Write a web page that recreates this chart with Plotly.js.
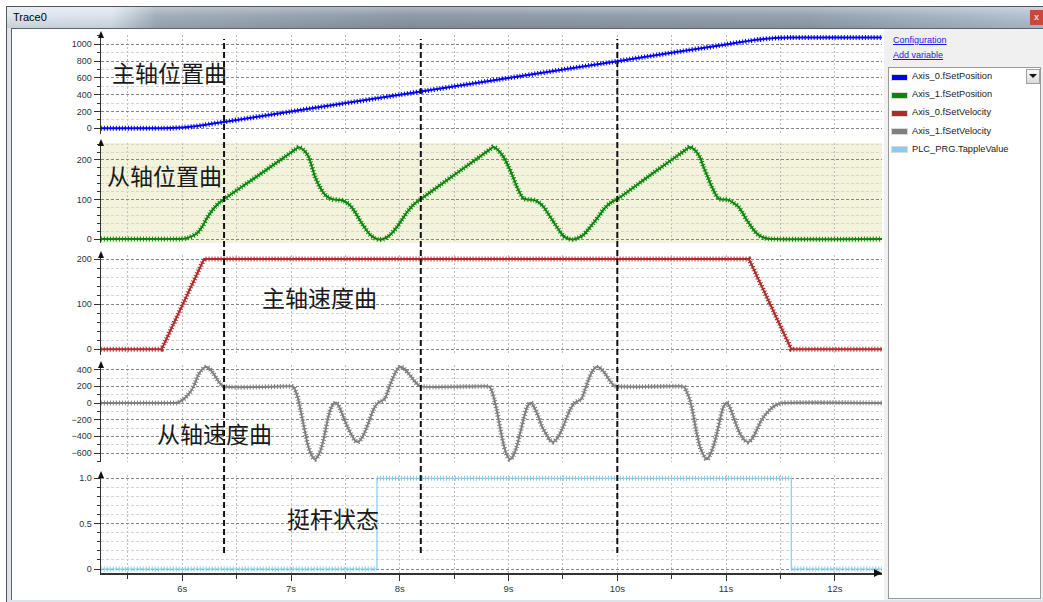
<!DOCTYPE html>
<html>
<head>
<meta charset="utf-8">
<script src="https://cdn.plot.ly/plotly-3.0.1.min.js"></script>
<style>
  html, body { margin: 0; padding: 0; background: #ffffff; width: 1043px; height: 602px; overflow: hidden; }
  .abs { position: absolute; }
  #frame { left: 6px; top: 6px; width: 1036px; height: 595px; background: #dde3e9; border-left: 1px solid #555; border-top: 1px solid #555; }
  #titlebar { left: 7px; top: 7px; width: 1036px; height: 21px;
    background: linear-gradient(to bottom, rgba(255,255,255,0.30), rgba(255,255,255,0.0) 40%, rgba(0,0,0,0.10)),
                linear-gradient(to right, #dfe7ef 0px, #dbe4ed 105px, #a3afbb 150px, #8e9aa7 400px, #95a2af 800px, #b5c4d3 1036px); }
  #ttext { left: 13px; top: 11px; font: 11px "Liberation Sans", Arial, sans-serif; color: #000; }
  #close { left: 1030px; top: 10px; width: 13px; height: 15px; background: #c8483c; color: #f4d0cc; font: bold 9px "Liberation Sans", Arial, sans-serif; text-align: center; line-height: 15px; }
  #content { left: 11px; top: 28px; width: 1032px; height: 571px; background: #ffffff; border-left: 1px solid #5b6470; border-top: 1px solid #5b6470; }
  #plot { left: 12px; top: 29px; width: 873px; height: 569px; }
  #side { left: 884px; top: 29px; width: 159px; height: 571px; background: #f0f0f0; }
  .lnk { position: absolute; left: 893px; font: 9px "Liberation Sans", Arial, sans-serif; color: #1a1ae6; text-decoration: underline; white-space: nowrap; }
  #lbox { left: 888px; top: 67px; width: 151px; height: 530px; background: #fff; border: 1px solid #9a9a9a; }
  .sw { position: absolute; left: 892px; width: 15px; height: 5px; box-shadow: 0 0 0 1px rgba(0,0,0,0.15); }
  .lt { position: absolute; left: 912px; font: 9.3px "Liberation Sans", Arial, sans-serif; color: #222; white-space: nowrap; }
  #dd { left: 1026px; top: 69px; width: 12px; height: 13px; border: 1px solid #a0a0a0; background: linear-gradient(#f8f8f8, #dadada); }
  #ddtri { left: 1029px; top: 74px; width: 0; height: 0; border-left: 4px solid transparent; border-right: 4px solid transparent; border-top: 4px solid #111; }
</style>
</head>
<body>
<div id="frame" class="abs"></div>
<div id="titlebar" class="abs"></div>
<div id="ttext" class="abs">Trace0</div>
<div id="close" class="abs">x</div>
<div id="content" class="abs"></div>
<div id="plot" class="abs"></div>
<div id="side" class="abs"></div>
<div class="lnk" style="top:35px">Configuration</div>
<div class="lnk" style="top:50px">Add variable</div>
<div id="lbox" class="abs"></div>
<div id="dd" class="abs"></div>
<div id="ddtri" class="abs"></div>
<div id="legend"></div>
<script>
// ---------------- DATA ----------------
const seriesNames = ["Axis_0.fSetPosition", "Axis_1.fSetPosition", "Axis_0.fSetVelocity", "Axis_1.fSetVelocity", "PLC_PRG.TappleValue"];
const seriesColors = ["#0000ff", "#0a860a", "#b02c2c", "#808080", "#87ceeb"];
const panelLabels = ["主轴位置曲", "从轴位置曲", "主轴速度曲", "从轴速度曲", "挺杆状态"];
const cycleMarks = [6.384, 8.193, 10.0];   // dashed cycle markers (s)

// Axis_0 position
const axis0PosT = [5.25, 5.81, 5.90, 6.00, 6.10, 6.20, 6.384, 7.00, 8.00, 8.193, 9.00, 10.00, 11.00, 11.21, 11.30, 11.40, 11.50, 11.60, 12.45];
const axis0PosV = [0, 0, 2, 9, 21, 39, 76, 199, 399, 438, 599, 799, 999, 1041, 1057, 1070, 1078, 1081, 1081];

// Axis_1 position
const axis1PosT = [5.25, 5.90, 5.98, 6.05, 6.133, 6.18, 6.225, 6.26, 6.30, 6.34, 6.384,
  6.70, 7.00, 7.04, 7.07, 7.113, 7.16, 7.22, 7.26, 7.30, 7.328, 7.375, 7.435, 7.48, 7.527, 7.575, 7.65, 7.73, 7.772, 7.805, 7.849, 7.90, 7.975, 8.07, 8.13, 8.193,
  8.50, 8.80, 8.835, 8.86, 8.90, 8.95, 8.998, 9.04, 9.075, 9.136, 9.18, 9.228, 9.28, 9.32, 9.36, 9.412, 9.46, 9.503, 9.55, 9.595, 9.64, 9.687, 9.73, 9.779, 9.83, 9.871, 9.94, 10.0,
  10.30, 10.61, 10.64, 10.668, 10.71, 10.76, 10.791, 10.83, 10.868, 10.929, 10.97, 11.02, 11.07, 11.113, 11.15, 11.19, 11.23, 11.266, 11.30, 11.343, 11.39, 11.435, 12.45];
const axis1PosV = [0, 0, 0, 3, 14, 30, 52, 67, 81, 92, 101,
  161, 219, 227, 232, 226, 209, 158, 134, 116, 108, 101, 99, 97, 89, 74, 40, 10, 2, -1, 0, 8, 31, 69, 88, 101,
  162, 221, 228, 233, 226, 209, 184, 158, 133, 103, 100, 99, 92, 82, 66, 44, 24, 8, 1, -1, 3, 10, 23, 40, 58, 74, 92, 101,
  161, 222, 228, 233, 226, 207, 184, 158, 133, 103, 100, 99, 91, 82, 67, 48, 32, 19, 10, 4, 1, 0, 0];

// Axis_0 velocity
const axis0VelT = [5.25, 5.81, 6.20, 11.21, 11.60, 12.45];
const axis0VelV = [0, 0, 200, 200, 0, 0];

// Axis_1 velocity
const axis1VelT = [5.25, 5.90, 5.95, 6.01, 6.05, 6.086, 6.12, 6.147, 6.18, 6.215, 6.25, 6.285, 6.315, 6.347, 6.384,
  7.00, 7.021, 7.045, 7.067, 7.09, 7.113, 7.135, 7.159, 7.19, 7.22, 7.25, 7.282, 7.31, 7.343, 7.375, 7.413, 7.445, 7.48, 7.52, 7.557, 7.585, 7.612, 7.645, 7.68, 7.72, 7.756, 7.79, 7.818, 7.84, 7.864, 7.89, 7.91, 7.935, 7.956, 7.98, 8.002, 8.04, 8.079, 8.11, 8.14, 8.165, 8.193,
  8.80, 8.825, 8.85, 8.87, 8.891, 8.92, 8.952, 8.98, 9.013, 9.045, 9.075, 9.105, 9.136, 9.17, 9.204, 9.235, 9.274, 9.31, 9.351, 9.38, 9.412, 9.45, 9.489, 9.53, 9.565, 9.60, 9.627, 9.65, 9.673, 9.70, 9.734, 9.77, 9.811, 9.85, 9.887, 9.925, 9.964, 10.0,
  10.59, 10.613, 10.64, 10.668, 10.70, 10.73, 10.77, 10.822, 10.85, 10.883, 10.915, 10.944, 10.975, 11.006, 11.035, 11.067, 11.105, 11.144, 11.175, 11.205, 11.245, 11.282, 11.32, 11.358, 11.40, 11.435, 11.475, 11.52, 12.45];
const axis1VelV = [0, 0, 2, 44, 95, 156, 250, 336, 400, 436, 410, 356, 295, 236, 200,
  200, 195, 130, 36, -100, -244, -390, -524, -630, -676, -630, -524, -370, -164, -40, 4, -50, -164, -290, -384, -445, -468, -430, -344, -210, -84, -10, 16, 30, 56, 140, 216, 295, 356, 410, 436, 410, 356, 305, 256, 222, 200,
  200, 195, 130, 36, -84, -284, -484, -610, -676, -630, -524, -370, -204, -50, 4, -50, -164, -290, -384, -445, -468, -420, -324, -190, -84, -10, 16, 30, 56, 150, 276, 380, 436, 410, 356, 280, 216, 200,
  200, 195, 130, 36, -150, -364, -560, -676, -630, -524, -370, -204, -50, 4, -50, -164, -300, -404, -450, -468, -420, -324, -220, -144, -85, -44, -15, 0, 0];

// Tappet state (step)
const tappleT = [5.25, 7.79, 11.60, 12.45];
const tappleV = [0, 1, 0, 0];

// Axis tick settings per panel
const yMajorStep = [200, 100, 100, 200, 0.5];
const yMinorStep = [100, 20, 20, 100, 0.1];
const yRanges = [[-68, 1111], [-10, 243], [-13, 209], [-708, 456], [-0.044, 1.036]];
const tappleTickVals = [0, 0.5, 1];
const tappleTickText = ["0", "0.5", "1.0"];

// ---------------- LEGEND (HTML side panel) ----------------
const legend = document.getElementById('legend');
seriesNames.forEach((n, i) => {
  const yc = 77 + i * 18.2;
  const sw = document.createElement('div');
  sw.className = 'sw';
  sw.style.top = (yc - 2.5) + 'px';
  sw.style.background = seriesColors[i];
  legend.appendChild(sw);
  const tx = document.createElement('div');
  tx.className = 'lt';
  tx.style.top = (yc - 6) + 'px';
  tx.textContent = n;
  legend.appendChild(tx);
});

// ---------------- PLOT ----------------
const W = 873, H = 569, ML = 89, MR = 3, MT = 6, MB = 25;
const PW = W - ML - MR, PH = H - MT - MB;
const px = 1 / PW, py = 1 / PH;
const domains = [[0.816, 1.0], [0.6134, 0.7993], [0.4052, 0.5911], [0.2063, 0.3866], [0, 0.1822]];

const series = [
  {t: axis0PosT, v: axis0PosV, shape: 'spline', sm: 0.6},
  {t: axis1PosT, v: axis1PosV, shape: 'spline', sm: 0.8},
  {t: axis0VelT, v: axis0VelV, shape: 'linear', sm: 0},
  {t: axis1VelT, v: axis1VelV, shape: 'spline', sm: 0.8},
  {t: tappleT, v: tappleV, shape: 'hv', sm: 0}
];

function horizRuns(t, v) {
  const xs = [], ys = [];
  for (let i = 0; i < t.length - 1; i++) { xs.push(t[i], t[i + 1], null); ys.push(v[i], v[i], null); }
  return {xs, ys};
}

const traces = [];
series.forEach((s, i) => {
  const xa = i === 0 ? 'x' : 'x' + (i + 1);
  const ya = i === 0 ? 'y' : 'y' + (i + 1);
  const isStep = s.shape === 'hv';
  traces.push({x: s.t, y: s.v, xaxis: xa, yaxis: ya, mode: 'lines', name: seriesNames[i], hoverinfo: 'skip',
    line: {color: seriesColors[i], width: isStep ? 1.2 : 2, shape: s.shape, smoothing: s.sm || undefined}});
  let ox = s.t, oy = s.v, oshape = s.shape;
  if (isStep) { const r = horizRuns(s.t, s.v); ox = r.xs; oy = r.ys; oshape = 'linear'; }
  traces.push({x: ox, y: oy, xaxis: xa, yaxis: ya, mode: 'lines', hoverinfo: 'skip', connectgaps: false,
    line: {color: seriesColors[i], width: 5, dash: '1px,2px', shape: oshape, smoothing: s.sm || undefined}});
});

const layout = {
  width: W, height: H,
  margin: {l: ML, r: MR, t: MT, b: MB, pad: 0},
  paper_bgcolor: '#ffffff', plot_bgcolor: 'rgba(0,0,0,0)',
  showlegend: false,
  font: {family: '"Liberation Sans", Arial, sans-serif', size: 9, color: '#333'},
  shapes: [], annotations: []
};

for (let i = 0; i < 5; i++) {
  const xk = i === 0 ? 'xaxis' : 'xaxis' + (i + 1);
  const yk = i === 0 ? 'yaxis' : 'yaxis' + (i + 1);
  const ya = i === 0 ? 'y' : 'y' + (i + 1);
  const xa = i === 0 ? 'x' : 'x' + (i + 1);
  const bottom = i === 4;
  layout[xk] = {
    anchor: ya, domain: [0, 1], range: [5.2524, 12.434],
    tick0: 0, dtick: 1, ticksuffix: 's',
    showgrid: true, gridcolor: '#bdbdbd', griddash: '2px,2px', gridwidth: 1,
    zeroline: false, showline: bottom, linecolor: '#333', linewidth: 1.5,
    showticklabels: bottom, ticks: bottom ? 'outside' : '', ticklen: 6, tickcolor: '#333', tickwidth: 1,
    tickfont: {size: 9.5, color: '#333'},
    minor: {dtick: 0.5, tick0: 0, showgrid: true, gridcolor: '#bdbdbd', griddash: '2px,2px', gridwidth: 1,
            ticks: bottom ? 'outside' : '', ticklen: 4, tickcolor: '#333'}
  };
  if (i > 0) layout[xk].matches = 'x';
  const yax = {
    anchor: xa, domain: domains[i], range: yRanges[i],
    tick0: 0, dtick: yMajorStep[i],
    showgrid: true, gridcolor: '#858585', griddash: '3px,2px', gridwidth: 1,
    zeroline: false, showline: true, linecolor: '#333', linewidth: 1.5,
    ticks: 'outside', ticklen: 6, tickcolor: '#333', tickwidth: 1,
    tickfont: {size: 9, color: '#333'},
    minor: {tick0: 0, dtick: yMinorStep[i], showgrid: true, gridcolor: '#d5d5d5', griddash: '3px,2px', gridwidth: 1,
            ticks: 'outside', ticklen: 3, tickcolor: '#333'}
  };
  if (i === 4) { yax.tickmode = 'array'; yax.tickvals = tappleTickVals; yax.ticktext = tappleTickText; yax.minor.tickmode = 'linear'; }
  layout[yk] = yax;

  // arrow at the top of each y axis
  const top = domains[i][1];
  layout.shapes.push({type: 'path', xref: 'paper', yref: 'paper', layer: 'above',
    path: `M ${-3 * px} ${top - 3 * py} L 0 ${top + 4 * py} L ${3 * px} ${top - 3 * py} Z`,
    fillcolor: '#111', line: {width: 0}});

  // panel label
  layout.annotations.push({xref: 'paper', yref: 'paper', showarrow: false, xanchor: 'left', yanchor: 'middle',
    text: panelLabels[i], font: {family: '"Noto Sans CJK SC", sans-serif', size: 23, color: '#1a1a1a'},
    x: [0.0115, 0.0051, 0.2036, 0.0691, 0.2356][i], y: [0.9312, 0.7398, 0.5130, 0.2602, 0.1022][i]});
}

// yellow background of panel 2
layout.shapes.unshift({type: 'rect', xref: 'x2 domain', yref: 'y2 domain', x0: 0, x1: 1, y0: 0, y1: 1,
  layer: 'below', fillcolor: '#f3f3dc', line: {width: 0}});

// x axis arrow
layout.shapes.push({type: 'path', xref: 'paper', yref: 'paper', layer: 'above',
  path: `M ${1 - 8 * px} ${-4 * py} L ${1} 0 L ${1 - 8 * px} ${4 * py} Z`, fillcolor: '#111', line: {width: 0}});

// dashed cycle markers
cycleMarks.forEach(t => {
  layout.shapes.push({type: 'line', xref: 'x', yref: 'paper', x0: t, x1: t, y0: 0.0372, y1: 0.9926,
    layer: 'above', line: {color: '#111', width: 2, dash: '6px,3px'}});
});

Plotly.newPlot('plot', traces, layout, {staticPlot: true, displayModeBar: false});
</script>
</body>
</html>
